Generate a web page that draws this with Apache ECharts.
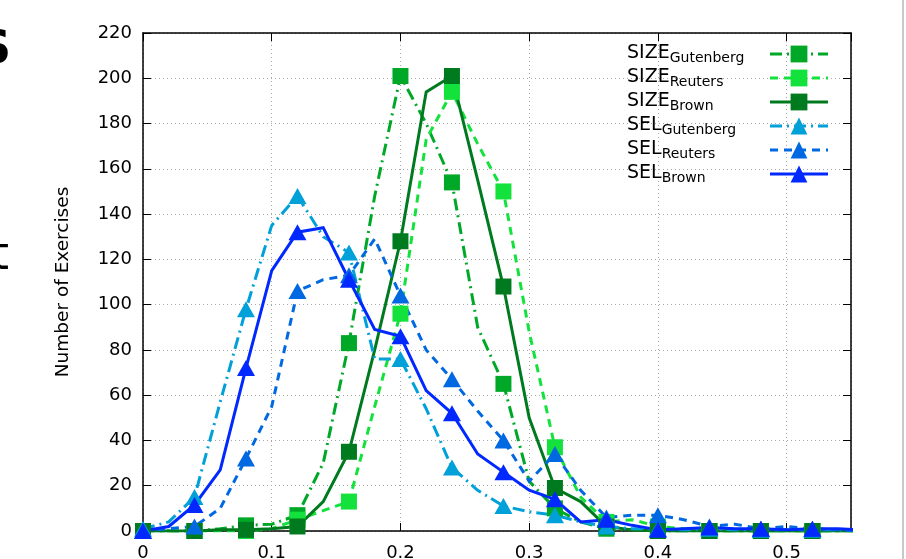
<!DOCTYPE html>
<html><head><meta charset="utf-8">
<script src="https://cdn.jsdelivr.net/npm/echarts@6/dist/echarts.min.js"></script>
<style>html,body{margin:0;padding:0;background:#fff;overflow:hidden}#c{width:906px;height:559px}</style>
</head><body><div id="c"></div>
<script>
// x positions of the samples (markers drawn on every other sample)
const xs = [0,0.02,0.04,0.06,0.08,0.10,0.12,0.14,0.16,0.18,0.20,0.22,0.24,0.26,0.28,0.30,0.32,0.34,0.36,0.38,0.40,0.42,0.44,0.46,0.48,0.50,0.52,0.54,0.56];

const sizeGutenberg = [0,0,0,1,2.5,3,7,30,83,148,201,180,154,90,65,22,10,4,1,0.5,0,0,0,0,0,0,0,0,0];
const sizeReuters   = [0,0,0,0,0,1,5,9,13,55,96,173,194,171,150,88,37,15,4,5,2,1,0,0,0,0,0,0,0];
const sizeBrown     = [0,0,0,0.5,0.5,1,2,13,35,80,128,194,201,155,108,50,19,13,2,0.5,0,0,0,0,0,0,0,0,0];
const selGutenberg  = [1,4,15,57,98,135,148,130,123,76,76,54,28,18,11,8.5,7,4,2,1,1,0.5,1,0.5,0.5,0.5,0.5,0.5,0];
const selReuters    = [0,1,2,10,32,55,106,111,113,129,104,80,67,53,40,22,34,18,6,7,7,5,2,3,1,2,1,0.5,0];
const selBrown      = [0,2,11.5,27,72,115,132,134,111,89,86,62,52,34,26,18,14,4,5,2.5,0.5,1,1.5,1,1,0.5,1,1,0.5];

const seriesNames = ['SIZE_Gutenberg','SIZE_Reuters','SIZE_Brown','SEL_Gutenberg','SEL_Reuters','SEL_Brown'];
const yTicks = [0,20,40,60,80,100,120,140,160,180,200,220];
const xTickLabels = ['0','0.1','0.2','0.3','0.4','0.5'];

const FONT = 'DejaVu Sans';
const dashDot = [12,5,2,5];
const dashed = [8,6];

function mk(name, ys, color, sym, size, dash) {
  return {
    name: name, type: 'line',
    data: xs.map((x, i) => ({ value: [x, ys[i]], symbol: i % 2 === 0 ? sym : 'none' })),
    symbol: sym, symbolSize: size, showAllSymbol: true,
    lineStyle: { color: color, width: 3, type: dash, cap: 'butt', join: 'miter' },
    itemStyle: { color: color, opacity: 1 },
    emphasis: { disabled: true },
    xAxisIndex: 0, yAxisIndex: 0,
    clip: true, silent: true
  };
}

const chart = echarts.init(document.getElementById('c'), null, { renderer: 'canvas' });
const grid = { left: 143, right: 55, top: 33, bottom: 28, containLabel: false, outerBoundsMode: 'none' };
const xBase = {
  type: 'value', min: 0, max: 0.55, interval: 0.1,
  axisLine: { show: true, onZero: false, lineStyle: { color: '#000', width: 1.5 } },
  axisTick: { show: true, inside: true, length: 8, lineStyle: { color: '#000', width: 1 } },
  splitLine: { show: false }
};
const yBase = {
  type: 'value', min: 0, max: 220, interval: 20,
  axisLine: { show: true, onZero: false, lineStyle: { color: '#000', width: 1.5 } },
  axisTick: { show: true, inside: true, length: 8, lineStyle: { color: '#000', width: 1 } },
  splitLine: { show: false }
};

chart.setOption({
  animation: false,
  backgroundColor: '#fff',
  grid: grid,
  xAxis: [
    Object.assign({}, xBase, {
      position: 'bottom',
      splitLine: { show: true, lineStyle: { color: '#a8a8a8', width: 1, type: [1, 3] } },
      axisLabel: {
        show: true, margin: 13, color: '#000', fontFamily: FONT, fontSize: 18,
        showMaxLabel: false,
        formatter: v => { const k = Math.round(v * 10); return Math.abs(v * 10 - k) < 1e-6 && k < xTickLabels.length ? xTickLabels[k] : ''; }
      }
    }),
    Object.assign({}, xBase, { position: 'top', axisLabel: { show: false } })
  ],
  yAxis: [
    Object.assign({}, yBase, {
      position: 'left',
      name: 'Number of Exercises', nameLocation: 'middle', nameGap: 70, nameRotate: 90,
      nameTextStyle: { fontFamily: FONT, fontSize: 18.5, color: '#000' },
      splitLine: { show: true, lineStyle: { color: '#a8a8a8', width: 1, type: [1, 3] } },
      axisLabel: { show: true, margin: 11, color: '#000', fontFamily: FONT, fontSize: 18,
        formatter: v => yTicks.indexOf(v) >= 0 ? String(v) : '' }
    }),
    Object.assign({}, yBase, { position: 'right', axisLabel: { show: false } })
  ],
  legend: {
    orient: 'vertical', left: 622, top: 39, align: 'right',
    itemWidth: 58, itemHeight: 21, itemGap: 3,
    selectedMode: false,
    data: seriesNames,
    lineStyle: { width: 3 },
    textStyle: {
      width: 138, color: '#000', fontFamily: FONT,
      rich: {
        m: { fontSize: 19, fontFamily: FONT, color: '#000', verticalAlign: 'top', lineHeight: 20, align: 'left' },
        s: { fontSize: 14, fontFamily: FONT, color: '#000', verticalAlign: 'top', lineHeight: 15, padding: [7, 0, 0, 0], align: 'left' }
      }
    },
    formatter: n => { const p = n.split('_'); return '{m|' + p[0] + '}{s|' + p[1] + '}'; }
  },
  graphic: [
    { type: 'rect', shape: { x: 902, y: 0, width: 2, height: 559 }, style: { fill: '#c8c8c8' }, silent: true },
    { type: 'text', left: -22, top: 28, silent: true, style: { text: 'S', font: 'bold 46px "DejaVu Sans"', fill: '#000' } },
    { type: 'text', left: -9, top: 234, silent: true, style: { text: 't', font: '46px "DejaVu Sans"', fill: '#000' } }
  ],
  series: [
    mk(seriesNames[0], sizeGutenberg, '#00a828', 'rect', 16, dashDot),
    mk(seriesNames[1], sizeReuters,   '#14e23c', 'rect', 16, dashed),
    mk(seriesNames[2], sizeBrown,     '#007a1e', 'rect', 16, 'solid'),
    mk(seriesNames[3], selGutenberg,  '#00a0d8', 'triangle', [18, 16], dashDot),
    mk(seriesNames[4], selReuters,    '#0068e0', 'triangle', [18, 16], dashed),
    mk(seriesNames[5], selBrown,      '#0028ff', 'triangle', [18, 16], 'solid')
  ]
});
</script>
</body></html>
